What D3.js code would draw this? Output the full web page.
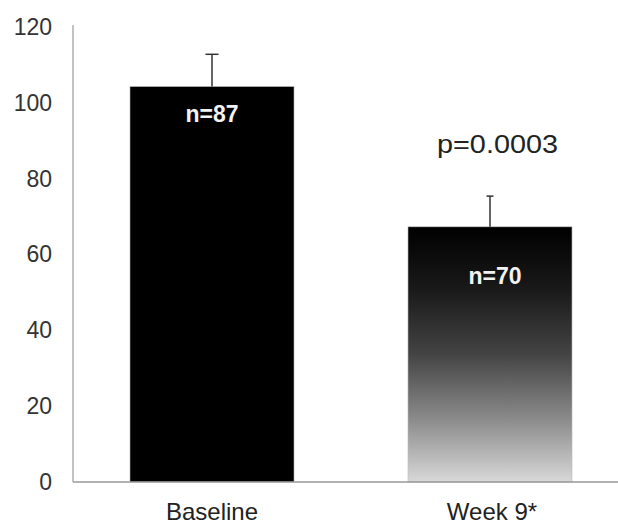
<!DOCTYPE html>
<html>
<head>
<meta charset="utf-8">
<script src="https://cdn.jsdelivr.net/npm/d3@7"></script>
<style>
  html, body { margin: 0; padding: 0; background: #fff; }
  svg { display: block; font-family: "Liberation Sans", Arial, sans-serif; }
</style>
</head>
<body>
<script>
const categories = ["Baseline", "Week 9*"];
const means = [104.3, 67.3];
const errors = [8.5, 8.1];
const nLabels = ["n=87", "n=70"];
const yTicks = [0, 20, 40, 60, 80, 100, 120];
const pLabel = "p=0.0003";

const W = 618, H = 524;
const svg = d3.select("body").append("svg").attr("width", W).attr("height", H);

const x = d3.scaleBand().domain(categories).range([73, 629]).paddingInner(0.41).paddingOuter(0.205);
const y = d3.scaleLinear().domain([0, 120]).range([482, 27]);

const defs = svg.append("defs");
const grad = defs.append("linearGradient").attr("id", "fade").attr("x1", 0).attr("y1", 0).attr("x2", 0).attr("y2", 1);
[[0, "#000000"], [0.25, "#1a1a1a"], [0.5, "#444444"], [0.75, "#8a8a8a"], [1, "#d8d8d8"]]
  .forEach(([o, c]) => grad.append("stop").attr("offset", o).attr("stop-color", c));

// y axis
const yAxis = svg.append("g").attr("transform", "translate(73,0)")
  .call(d3.axisLeft(y).tickValues(yTicks).tickSize(0).tickPadding(21));
yAxis.select(".domain").attr("stroke", "#999").attr("stroke-width", 1.2).attr("d", `M0,25V${y(0)}`);
yAxis.selectAll("text").attr("font-size", 23).attr("fill", "#333")
  .attr("font-family", "'Liberation Sans', Arial, sans-serif");

// bars
const fills = ["#000000", "url(#fade)"];
svg.selectAll("rect.bar").data(categories).enter().append("rect")
  .attr("class", "bar")
  .attr("x", d => x(d))
  .attr("y", (d, i) => y(means[i]))
  .attr("width", x.bandwidth())
  .attr("height", (d, i) => y(0) - y(means[i]))
  .attr("fill", (d, i) => fills[i])
  .attr("stroke", "#bbb").attr("stroke-width", 0.6);

// error bars
const capW = [13, 7];
categories.forEach((c, i) => {
  const cx = x(c) + x.bandwidth() / 2;
  svg.append("line").attr("x1", cx).attr("x2", cx)
    .attr("y1", y(means[i])).attr("y2", y(means[i] + errors[i]))
    .attr("stroke", "#333").attr("stroke-width", 1.5);
  svg.append("line").attr("x1", cx - capW[i] / 2).attr("x2", cx + capW[i] / 2)
    .attr("y1", y(means[i] + errors[i])).attr("y2", y(means[i] + errors[i]))
    .attr("stroke", "#333").attr("stroke-width", 1.5);
});

// x axis
svg.append("line").attr("x1", 73).attr("x2", W).attr("y1", y(0)).attr("y2", y(0))
  .attr("stroke", "#999").attr("stroke-width", 1.5);
svg.selectAll("text.cat").data(categories).enter().append("text")
  .attr("class", "cat")
  .attr("x", (d, i) => x(d) + x.bandwidth() / 2 + (i === 1 ? 2 : 0))
  .attr("y", 520)
  .attr("text-anchor", "middle")
  .attr("font-size", 24).attr("fill", "#222")
  .text(d => d);

// n labels
const nOffsets = [[0, 122], [5, 284]];
svg.selectAll("text.n").data(nLabels).enter().append("text")
  .attr("class", "n")
  .attr("x", (d, i) => x(categories[i]) + x.bandwidth() / 2 + nOffsets[i][0])
  .attr("y", (d, i) => nOffsets[i][1])
  .attr("text-anchor", "middle")
  .attr("font-size", 23).attr("font-weight", "bold").attr("fill", "#f2f2f2")
  .text(d => d);

// p label
svg.append("text")
  .attr("x", 497.5).attr("y", 153)
  .attr("text-anchor", "middle")
  .attr("font-size", 26).attr("fill", "#222")
  .attr("textLength", 121).attr("lengthAdjust", "spacingAndGlyphs")
  .text(pLabel);
</script>
</body>
</html>
